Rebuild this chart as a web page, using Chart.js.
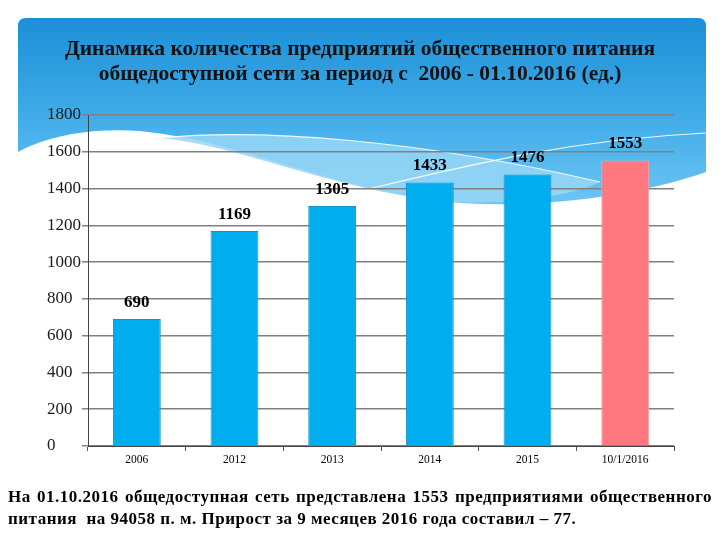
<!DOCTYPE html>
<html>
<head>
<meta charset="utf-8">
<script src="https://cdn.jsdelivr.net/npm/chart.js@4.4.0/dist/chart.umd.min.js"></script>
<style>
  body { margin: 0; background: #fff; }
  #wrap { position: relative; width: 720px; height: 540px; }
  #note {
    position: absolute; left: 8px; top: 486px; width: 704px;
    font-family: "Liberation Serif", "Times New Roman", serif;
    font-weight: bold; font-size: 17px; line-height: 22px;
    letter-spacing: 0.5px;
    text-align: justify; color: #000;
  }
</style>
</head>
<body>
<div id="wrap">
  <canvas id="myChart" width="720" height="540"></canvas>
  <div id="note">На 01.10.2016 общедоступная сеть представлена 1553 предприятиями общественного питания&nbsp; на 94058 п. м. Прирост за 9 месяцев 2016 года составил – 77.</div>
</div>
<script>
var categories = ['2006', '2012', '2013', '2014', '2015', '10/1/2016'];
var counts = [690, 1169, 1305, 1433, 1476, 1553];
var yTicks = [0, 200, 400, 600, 800, 1000, 1200, 1400, 1600, 1800];
var titleLines = [
  'Динамика количества предприятий общественного питания',
  'общедоступной сети за период с  2006 - 01.10.2016 (ед.)'
];

var barColors = counts.map(function(v, i) {
  return i == counts.length - 1 ? '#ff7880' : '#00aeef';
});
var barBorders = counts.map(function(v, i) {
  return i == counts.length - 1 ? '#f4a3a6' : '#1590c4';
});

// blue header with the white wave behind the chart
var backdrop = {
  id: 'backdrop',
  beforeDraw: function(chart) {
    var ctx = chart.ctx;
    ctx.save();
    ctx.beginPath();
    ctx.moveTo(18, 152);
    ctx.lineTo(18, 26);
    ctx.quadraticCurveTo(18, 18, 26, 18);
    ctx.lineTo(698, 18);
    ctx.quadraticCurveTo(706, 18, 706, 26);
    ctx.lineTo(706, 172);
    ctx.bezierCurveTo(640, 195, 540, 210, 450, 202);
    ctx.bezierCurveTo(330, 190, 240, 140, 140, 131);
    ctx.bezierCurveTo(80, 127, 40, 140, 18, 152);
    ctx.closePath();
    var g = ctx.createLinearGradient(0, 18, 0, 205);
    g.addColorStop(0, '#1c8fd6');
    g.addColorStop(0.5, '#3eaae8');
    g.addColorStop(1, '#6cc6f3');
    ctx.fillStyle = g;
    ctx.fill();

    // lighter band
    ctx.beginPath();
    ctx.moveTo(160, 138);
    ctx.bezierCurveTo(260, 128, 420, 140, 600, 182);
    ctx.bezierCurveTo(560, 200, 500, 204, 450, 202);
    ctx.bezierCurveTo(330, 190, 240, 145, 160, 138);
    ctx.closePath();
    ctx.fillStyle = 'rgba(150,214,246,0.85)';
    ctx.fill();

    ctx.strokeStyle = 'rgba(255,255,255,0.9)';
    ctx.lineWidth = 1.2;
    ctx.beginPath();
    ctx.moveTo(160, 138);
    ctx.bezierCurveTo(260, 128, 420, 140, 600, 182);
    ctx.stroke();
    ctx.beginPath();
    ctx.moveTo(330, 198);
    ctx.bezierCurveTo(450, 170, 560, 140, 706, 133);
    ctx.stroke();
    ctx.restore();
  }
};

var valueLabels = {
  id: 'valueLabels',
  afterDatasetsDraw: function(chart) {
    var ctx = chart.ctx;
    var meta = chart.getDatasetMeta(0);
    ctx.save();
    ctx.font = 'bold 17px "Liberation Serif", serif';
    ctx.fillStyle = '#000';
    ctx.textAlign = 'center';
    ctx.textBaseline = 'bottom';
    meta.data.forEach(function(bar, i) {
      ctx.fillText(String(counts[i]), bar.x, bar.y - 8);
    });
    ctx.restore();
  }
};

var ctx = document.getElementById('myChart').getContext('2d');
var myChart = new Chart(ctx, {
  type: 'bar',
  data: {
    labels: categories,
    datasets: [{
      data: counts,
      backgroundColor: barColors,
      borderColor: barBorders,
      borderWidth: 1,
      barPercentage: 0.49,
      categoryPercentage: 1
    }]
  },
  options: {
    responsive: false,
    animation: false,
    layout: { padding: { left: 0, right: 0, top: 0, bottom: 70 } },
    plugins: {
      legend: { display: false },
      tooltip: { enabled: false },
      title: {
        display: true,
        text: titleLines,
        color: '#111',
        font: { family: '"Liberation Serif", serif', size: 21.5, weight: 'bold', lineHeight: 1.163 },
        padding: { top: 37, bottom: 28 }
      }
    },
    scales: {
      x: {
        afterFit: function(scale) { scale.height = 24; },
        grid: { drawOnChartArea: false, drawTicks: true, tickLength: 5, color: '#555' },
        border: { color: '#444', width: 1 },
        ticks: {
          color: '#000',
          padding: 2,
          font: { family: '"Liberation Serif", serif', size: 11.5 }
        }
      },
      y: {
        min: 0,
        max: 1800,
        weight: 0,
        afterFit: function(scale) { scale.width = 41; },
        afterBuildTicks: function(scale) {
          scale.ticks = yTicks.map(function(v) { return { value: v }; });
        },
        grid: { color: '#808080', lineWidth: 1.5, tickLength: 6 },
        border: { color: '#444', width: 1 },
        ticks: {
          color: '#1a1a1a',
          padding: 2,
          crossAlign: 'far',
          font: { family: '"Liberation Serif", serif', size: 17 },
          callback: function(v) { return String(v); }
        }
      },
      // empty side axes, they only hold the plot away from the edges
      yLeft: {
        position: 'left',
        weight: 1,
        afterFit: function(scale) { scale.width = 47; },
        grid: { drawOnChartArea: false, drawTicks: false },
        border: { display: false },
        ticks: { display: false }
      },
      yRight: {
        position: 'right',
        afterFit: function(scale) { scale.width = 46; },
        grid: { drawOnChartArea: false, drawTicks: false },
        border: { display: false },
        ticks: { display: false }
      }
    }
  },
  plugins: [backdrop, valueLabels]
});
</script>
</body>
</html>
